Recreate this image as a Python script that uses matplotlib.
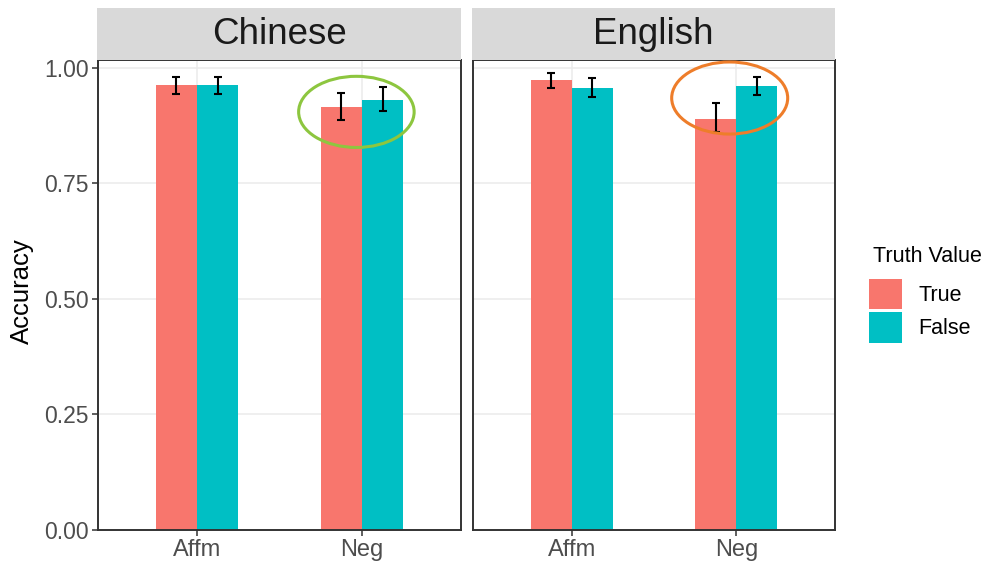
import matplotlib
matplotlib.use("Agg")
import matplotlib.pyplot as plt
from matplotlib.patches import Ellipse, Patch
import numpy as np

plt.rcParams['font.family'] = ['Liberation Sans', 'DejaVu Sans']

# ---- data ----
panels = ["Chinese", "English"]
conditions = ["Affm", "Neg"]
truth_levels = ["True", "False"]
colors = {"True": "#F8766D", "False": "#00BFC4"}

acc_true = {"Chinese": [0.963, 0.916], "English": [0.973, 0.890]}
acc_false = {"Chinese": [0.964, 0.931], "English": [0.957, 0.960]}
lo_true = {"Chinese": [0.944, 0.887], "English": [0.957, 0.862]}
hi_true = {"Chinese": [0.981, 0.946], "English": [0.990, 0.924]}
lo_false = {"Chinese": [0.944, 0.907], "English": [0.937, 0.942]}
hi_false = {"Chinese": [0.981, 0.959], "English": [0.979, 0.981]}

y_ticks = [0.00, 0.25, 0.50, 0.75, 1.00]
y_tick_labels = ["0.00", "0.25", "0.50", "0.75", "1.00"]

# highlight ellipses (annotation): panel -> (center x, center y, width, height, colour)
highlights = {"Chinese": (1.966, 0.905, 0.70, 0.154, "#8DC63F"),
              "English": (1.96, 0.935, 0.705, 0.156, "#EE7D2A")}

W, H = 997, 566
fig = plt.figure(figsize=(W / 100, H / 100), dpi=100)
fig.patch.set_facecolor("white")

panel_lefts = [98, 473]
panel_widths = [363, 362]
top_px, bot_px = 60, 530
strip_top = 8

x = np.arange(1, len(conditions) + 1)
bw = 0.25

for i, name in enumerate(panels):
    l = panel_lefts[i] / W
    w = panel_widths[i] / W
    b = (H - bot_px) / H
    h = (bot_px - top_px) / H
    ax = fig.add_axes([l, b, w, h])
    ax.set_xlim(0.4, 2.6)
    ax.set_ylim(0, 1.0173)
    ax.set_axisbelow(True)
    ax.grid(True, color="#EBEBEB", linewidth=1.1)
    for sp in ax.spines.values():
        sp.set_color("#333333")
        sp.set_linewidth(1.4)
    ax.bar(x - bw / 2, acc_true[name], width=bw, color=colors["True"], zorder=2)
    ax.bar(x + bw / 2, acc_false[name], width=bw, color=colors["False"], zorder=2)
    for xs, m, lo, hi in [(x - bw / 2, acc_true[name], lo_true[name], hi_true[name]),
                          (x + bw / 2, acc_false[name], lo_false[name], hi_false[name])]:
        m = np.array(m)
        yerr = np.vstack([m - np.array(lo), np.array(hi) - m])
        ax.errorbar(xs, m, yerr=yerr, fmt="none", ecolor="black", elinewidth=1.5,
                    capsize=3.0, capthick=1.5, zorder=3)
    cx, cy, ew, eh, ec = highlights[name]
    ax.add_patch(Ellipse((cx, cy), ew, eh, fill=False, edgecolor=ec, linewidth=2.2, zorder=4))
    ax.set_xticks(x)
    ax.set_xticklabels(conditions)
    ax.set_yticks(y_ticks)
    ax.tick_params(axis="both", colors="#333333", labelcolor="#4D4D4D", labelsize=17,
                   length=4, width=1.1, pad=2.5)
    ax.tick_params(axis="y", labelsize=16.5)
    if i == 0:
        ax.set_yticklabels(y_tick_labels)
    else:
        ax.tick_params(axis="y", left=False, labelleft=False)
    # strip
    sax = fig.add_axes([(panel_lefts[i] - 1) / W, (H - top_px) / H, (panel_widths[i] + 1) / W,
                        (top_px - strip_top) / H])
    sax.set_facecolor("#D9D9D9")
    sax.set_xticks([]); sax.set_yticks([])
    for sp in sax.spines.values():
        sp.set_visible(False)
    sax.text(0.5, 0.5, name, ha="center", va="center", fontsize=26.5, color="#1A1A1A",
             transform=sax.transAxes)

fig.text(22 / W, 1 - 291 / H, "Accuracy", rotation=90, ha="center", va="center",
         fontsize=18.5, color="black")

# legend
fig.text(873 / W, 1 - 256 / H, "Truth Value", ha="left", va="center", fontsize=15.5,
         color="black")
handles = [Patch(facecolor=colors[t], edgecolor="none") for t in truth_levels]
leg = fig.legend(handles, truth_levels, loc="upper left",
                 bbox_to_anchor=(869 / W, 1 - 279 / H), frameon=False, fontsize=15.5,
                 handlelength=1.53, handleheight=1.8, labelspacing=0.12,
                 handletextpad=0.75, borderaxespad=0, borderpad=0)

fig.savefig("out.png", dpi=100)
